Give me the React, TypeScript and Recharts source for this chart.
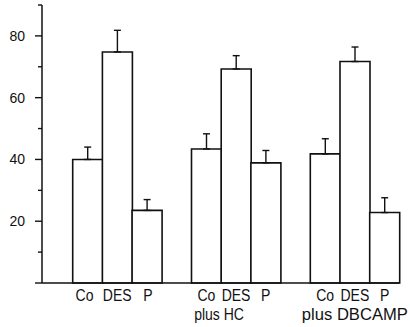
import React from "react";
import { BarChart, Bar, XAxis, YAxis, ErrorBar } from "recharts";

// ---- data ----
const conditions = ["Co", "DES", "P"];
const groupLabels = ["", "plus HC", "plus DBCAMP"];
const controlMeans = [40, 74.8, 23.5];
const hcMeans = [43.4, 69.3, 38.9];
const dbcampMeans = [41.8, 71.7, 22.8];
const controlErr = [4, 7, 3.5];
const hcErr = [4.9, 4.3, 4];
const dbcampErr = [4.9, 4.7, 4.8];
const yTicks = [0, 10, 20, 30, 40, 50, 60, 70, 80, 90];
const yLabelled = [20, 40, 60, 80];

const groupMeans = [controlMeans, hcMeans, dbcampMeans];
const groupErrs = [controlErr, hcErr, dbcampErr];

type Row = {
  key: string;
  label: string;
  group: number;
  cond: number;
  value: number | null;
  err: [number, number] | null;
};

const rows: Row[] = [];
groupMeans.forEach((means, g) => {
  if (g > 0) {
    rows.push({ key: `gap${g}`, label: "", group: g, cond: -1, value: null, err: null });
  }
  means.forEach((v, c) => {
    rows.push({
      key: `g${g}-${conditions[c]}`,
      label: conditions[c],
      group: g,
      cond: c,
      value: v,
      err: [0, groupErrs[g][c]],
    });
  });
});

const FONT = "'Liberation Sans', Arial, Helvetica, sans-serif";

const secondLineShift = [0, -17, 0];
const firstLineShift = [-3, 0, 1];

const XTick = (props: any) => {
  const { x, y, index } = props;
  const row = rows[index];
  if (!row || !row.label) return null;
  const gl = groupLabels[row.group];
  const fx = x + (row.group === 0 ? firstLineShift[row.cond] : 0);
  return (
    <g>
      <text
        transform={`translate(${fx},${y + 17.5}) scale(0.85,1)`}
        x={0}
        y={0}
        textAnchor="middle"
        fontFamily={FONT}
        fontSize={16.5}
        fill="#111"
      >
        {row.label}
      </text>
      {row.cond === 1 && gl ? (
        gl.length > 8 ? (
          <text
            x={x + secondLineShift[row.group]}
            y={y + 36.5}
            textAnchor="middle"
            fontFamily={FONT}
            fontSize={16.5}
            fill="#111"
            textLength={106}
            lengthAdjust="spacingAndGlyphs"
          >
            {gl}
          </text>
        ) : (
          <text
            transform={`translate(${x + secondLineShift[row.group]},${y + 36.5}) scale(0.85,1)`}
            x={0}
            y={0}
            textAnchor="middle"
            fontFamily={FONT}
            fontSize={16.5}
            fill="#111"
          >
            {gl}
          </text>
        )
      ) : null}
    </g>
  );
};

const YTick = (props: any) => {
  const { x, y, payload } = props;
  const v = payload.value;
  const major = v === 0 || yLabelled.includes(v);
  const len = major ? 7 : 4;
  return (
    <g>
      <line x1={x - len} y1={y} x2={x} y2={y} stroke="#111" strokeWidth={1.4} />
      {yLabelled.includes(v) ? (
        <text x={x - 17} y={y + 5} textAnchor="end" fontFamily={FONT} fontSize={14} fill="#111">
          {v}
        </text>
      ) : null}
    </g>
  );
};

export default function App() {
  return (
    <div style={{ position: "absolute", left: 0, top: 0, width: 410, height: 327, background: "#fff" }}>
      <BarChart
        width={410}
        height={327}
        data={rows}
        margin={{ top: 5, right: 10.6, bottom: 0, left: 0 }}
        barCategoryGap={0}
        barGap={0}
      >
        <XAxis
          dataKey="key"
          interval={0}
          height={44}
          tickLine={false}
          tickSize={0}
          tickMargin={0}
          padding={{ left: 30.7, right: 0 }}
          axisLine={{ stroke: "#111", strokeWidth: 1.5 }}
          tick={<XTick />}
        />
        <YAxis
          width={42}
          domain={[0, 90]}
          ticks={yTicks}
          interval={0}
          tickLine={false}
          tickSize={0}
          tickMargin={0}
          axisLine={{ stroke: "#111", strokeWidth: 1.5 }}
          tick={<YTick />}
        />
        <Bar dataKey="value" fill="#fff" stroke="#111" strokeWidth={1.6} isAnimationActive={false}>
          <ErrorBar dataKey="err" width={3.5} stroke="#111" strokeWidth={1.4} direction="y" />
        </Bar>
      </BarChart>
    </div>
  );
}
